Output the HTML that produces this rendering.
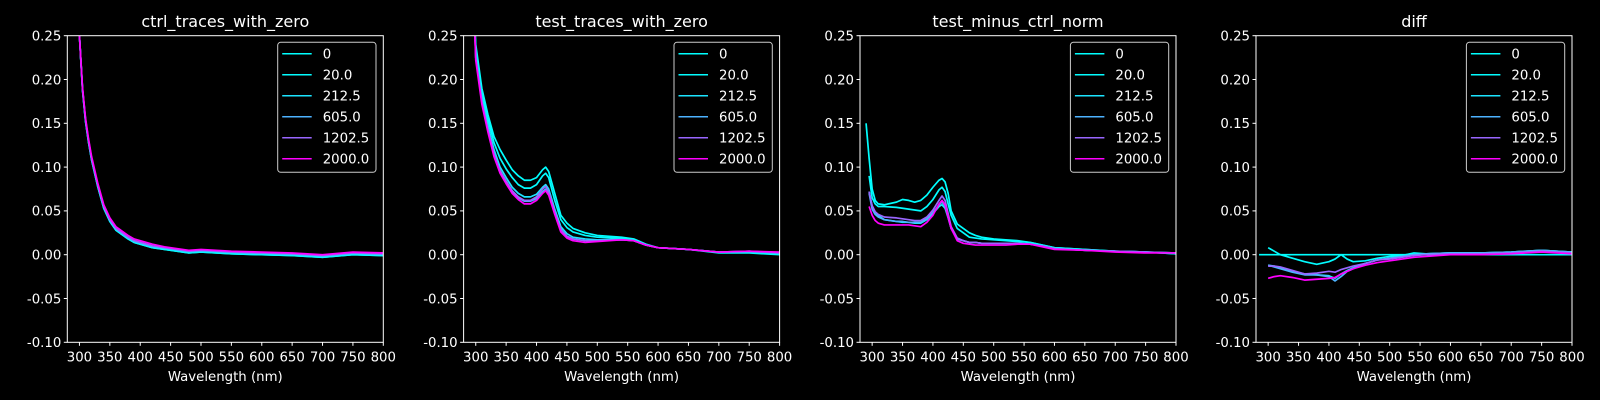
<!DOCTYPE html>
<html><head><meta charset="utf-8">
<style>
html,body{margin:0;padding:0;background:#000;}
svg{display:block;font-family:"DejaVu Sans","Liberation Sans",sans-serif;}
</style></head>
<body>
<svg id="fig" width="1600" height="400" viewBox="0 0 1600 400" xmlns="http://www.w3.org/2000/svg">
<rect width="1600" height="400" fill="#000"/>
</svg>
<script>
const legendLabels = ["0","20.0","212.5","605.0","1202.5","2000.0"];
const seriesColors = ["#00ffff","#03fcff","#1be4ff","#4db2ff","#9966ff","#ff00ff"];
const panelTitles = ["ctrl_traces_with_zero","test_traces_with_zero","test_minus_ctrl_norm","diff"];
const xTicks = [300,350,400,450,500,550,600,650,700,750,800];
const yTicks = [-0.10,-0.05,0.00,0.05,0.10,0.15,0.20,0.25];

const wl1 = [290,295,300,305,310,315,320,330,340,350,360,370,380,390,400,420,440,460,480,500,550,600,650,700,750,800];
const p1s0 = [0.45,0.35,0.25,0.188,0.152,0.128,0.108,0.078,0.053,0.038,0.028,0.023,0.018,0.014,0.012,0.008,0.006,0.004,0.002,0.003,0.001,0.000,-0.001,-0.003,0.000,-0.001];
const p1s1 = [0.45,0.35,0.25,0.188,0.152,0.128,0.108,0.078,0.053,0.038,0.028,0.023,0.018,0.014,0.012,0.008,0.006,0.004,0.002,0.003,0.001,0.000,-0.001,-0.003,0.000,-0.001];
const p1s2 = [0.45,0.35,0.25,0.189,0.153,0.129,0.109,0.079,0.054,0.039,0.029,0.024,0.019,0.015,0.013,0.009,0.007,0.005,0.003,0.004,0.002,0.001,0.000,-0.002,0.001,0.000];
const p1s3 = [0.45,0.35,0.25,0.19,0.154,0.13,0.11,0.08,0.055,0.04,0.03,0.025,0.02,0.016,0.014,0.010,0.008,0.006,0.004,0.005,0.003,0.002,0.001,-0.001,0.002,0.001];
const p1s4 = [0.45,0.35,0.25,0.19,0.154,0.13,0.11,0.08,0.055,0.04,0.03,0.025,0.02,0.016,0.014,0.010,0.008,0.006,0.004,0.005,0.003,0.002,0.001,-0.001,0.002,0.001];
const p1s5 = [0.45,0.35,0.25,0.191,0.156,0.132,0.112,0.082,0.057,0.042,0.032,0.027,0.022,0.018,0.016,0.012,0.009,0.007,0.005,0.006,0.004,0.003,0.002,0.000,0.003,0.002];

const wl2 = [290,295,300,310,320,330,340,350,360,370,380,390,400,410,415,420,430,440,450,460,480,500,540,560,580,600,650,700,750,800];
const p2s0 = [0.42,0.32,0.24,0.19,0.16,0.135,0.12,0.108,0.097,0.09,0.085,0.085,0.088,0.097,0.100,0.095,0.07,0.045,0.036,0.030,0.025,0.022,0.020,0.018,0.012,0.008,0.006,0.002,0.002,0.000];
const p2s1 = [0.42,0.32,0.235,0.185,0.155,0.128,0.11,0.098,0.088,0.08,0.076,0.076,0.080,0.090,0.093,0.088,0.062,0.040,0.031,0.026,0.022,0.020,0.019,0.017,0.011,0.008,0.006,0.003,0.003,0.001];
const p2s2 = [0.42,0.32,0.23,0.18,0.148,0.12,0.1,0.088,0.077,0.07,0.066,0.066,0.069,0.077,0.080,0.075,0.052,0.032,0.024,0.020,0.018,0.017,0.018,0.016,0.011,0.008,0.006,0.003,0.003,0.002];
const p2s3 = [0.42,0.32,0.225,0.175,0.143,0.115,0.095,0.083,0.072,0.065,0.061,0.061,0.064,0.072,0.075,0.070,0.048,0.029,0.021,0.018,0.016,0.016,0.017,0.016,0.011,0.008,0.006,0.003,0.004,0.002];
const p2s4 = [0.42,0.32,0.225,0.175,0.143,0.115,0.096,0.084,0.073,0.066,0.062,0.062,0.066,0.075,0.078,0.072,0.049,0.029,0.021,0.018,0.016,0.016,0.017,0.016,0.011,0.008,0.006,0.003,0.004,0.002];
const p2s5 = [0.42,0.32,0.222,0.172,0.14,0.112,0.093,0.081,0.07,0.063,0.058,0.058,0.062,0.070,0.073,0.068,0.046,0.026,0.019,0.016,0.014,0.015,0.017,0.016,0.011,0.008,0.006,0.003,0.004,0.003];

const wl3 = [290,295,300,305,310,320,340,350,360,370,380,390,400,410,415,420,425,430,440,450,460,470,480,500,520,540,560,580,600,650,700,750,800];
const p3s0 = [0.150,0.110,0.075,0.062,0.058,0.057,0.060,0.063,0.062,0.060,0.062,0.068,0.077,0.085,0.087,0.083,0.070,0.050,0.035,0.030,0.025,0.022,0.020,0.018,0.017,0.016,0.014,0.011,0.008,0.006,0.004,0.003,0.001];
const p3s1 = [null,0.090,0.065,0.058,0.055,0.055,0.054,0.053,0.052,0.051,0.050,0.055,0.063,0.074,0.077,0.072,0.058,0.045,0.030,0.025,0.020,0.019,0.018,0.017,0.016,0.015,0.014,0.011,0.008,0.006,0.004,0.003,0.001];
const p3s2 = [null,0.072,0.055,0.048,0.045,0.040,0.038,0.037,0.037,0.036,0.036,0.040,0.047,0.055,0.057,0.053,0.042,0.030,0.018,0.016,0.014,0.014,0.013,0.013,0.013,0.013,0.012,0.010,0.007,0.005,0.004,0.003,0.002];
const p3s3 = [null,0.070,0.052,0.046,0.043,0.040,0.038,0.038,0.037,0.037,0.037,0.041,0.048,0.057,0.060,0.056,0.043,0.030,0.018,0.016,0.014,0.014,0.013,0.013,0.013,0.013,0.012,0.010,0.007,0.005,0.004,0.003,0.002];
const p3s4 = [null,0.072,0.056,0.049,0.046,0.043,0.042,0.041,0.040,0.039,0.039,0.043,0.051,0.062,0.067,0.062,0.047,0.032,0.019,0.016,0.014,0.014,0.013,0.013,0.013,0.013,0.012,0.010,0.007,0.005,0.004,0.003,0.002];
const p3s5 = [null,0.055,0.045,0.039,0.036,0.034,0.034,0.034,0.034,0.033,0.032,0.037,0.045,0.058,0.062,0.057,0.043,0.030,0.016,0.013,0.012,0.011,0.011,0.011,0.011,0.012,0.012,0.009,0.006,0.005,0.003,0.002,0.002];

const wl4 = [285,300,310,320,340,360,380,400,410,420,430,440,460,480,500,520,540,560,600,650,700,750,800];
const p4s0 = [0,0,0,0,0,0,0,0,0,0,0,0,0,0,0,0,0,0,0,0,0,0,0];
const p4s1 = [null,0.008,0.004,0.000,-0.004,-0.008,-0.011,-0.008,-0.005,0.000,-0.005,-0.008,-0.007,-0.004,-0.002,-0.001,0.002,0.001,0.002,0.002,0.003,0.005,0.003];
const p4s2 = [null,-0.012,-0.013,-0.015,-0.019,-0.022,-0.023,-0.024,-0.027,-0.022,-0.018,-0.015,-0.010,-0.006,-0.004,-0.002,0.000,0.001,0.002,0.002,0.003,0.005,0.003];
const p4s3 = [null,-0.012,-0.014,-0.016,-0.020,-0.023,-0.023,-0.025,-0.030,-0.025,-0.019,-0.016,-0.010,-0.006,-0.004,-0.002,0.000,0.001,0.002,0.002,0.003,0.005,0.003];
const p4s4 = [null,-0.013,-0.013,-0.014,-0.018,-0.022,-0.021,-0.019,-0.020,-0.017,-0.015,-0.013,-0.010,-0.006,-0.005,-0.003,-0.001,0.000,0.001,0.001,0.002,0.004,0.002];
const p4s5 = [null,-0.027,-0.025,-0.024,-0.026,-0.029,-0.028,-0.027,-0.026,-0.022,-0.019,-0.016,-0.012,-0.009,-0.007,-0.005,-0.003,-0.002,0.000,0.000,0.001,0.003,0.001];

const panels = [
  {wl: wl1, series: [p1s0,p1s1,p1s2,p1s3,p1s4,p1s5]},
  {wl: wl2, series: [p2s0,p2s1,p2s2,p2s3,p2s4,p2s5]},
  {wl: wl3, series: [p3s0,p3s1,p3s2,p3s3,p3s4,p3s5]},
  {wl: wl4, series: [p4s0,p4s1,p4s2,p4s3,p4s4,p4s5]}
];

const NS = "http://www.w3.org/2000/svg";
const fig = document.getElementById('fig');
const X0 = 280, X1 = 800, Y0 = -0.10, Y1 = 0.25;
const PW = 316, PT = 35.7, PB = 342.3;
const lefts = [67.3, 463.6, 860, 1256];

function mk(tag, attrs, parent){
  const e = document.createElementNS(NS, tag);
  for (const k in attrs) e.setAttribute(k, attrs[k]);
  parent.appendChild(e);
  return e;
}

panels.forEach((p, pi) => {
  const L = lefts[pi], R = L + PW;
  const xs = v => L + (v - X0) / (X1 - X0) * PW;
  const ys = v => PB - (v - Y0) / (Y1 - Y0) * (PB - PT);
  const g = mk('g', {}, fig);
  
  

  const clip = mk('clipPath', {id: 'clip' + pi}, g);
  mk('rect', {x: L, y: PT, width: PW, height: PB - PT}, clip);

  const lines = mk('g', {'clip-path': 'url(#clip' + pi + ')'}, g);
  
  
  p.series.forEach((s, si) => {
    let d = '', started = false;
    s.forEach((v, i) => {
      if (v === null) return;
      d += (started ? 'L' : 'M') + xs(p.wl[i]).toFixed(2) + ',' + ys(v).toFixed(2);
      started = true;
    });
    const path = mk('path', {d: d, fill: 'none', stroke: seriesColors[si], 'stroke-width': 1.7, 'stroke-linejoin': 'round'}, lines);
    
    
  });

  const frame = mk('rect', {x: L, y: PT, width: PW, height: PB - PT, fill: 'none', stroke: '#fff', 'stroke-width': 1}, g);
  
  

  xTicks.forEach(t => {
    const x = xs(t);
    mk('line', {x1: x, x2: x, y1: PB, y2: PB + 3.5, stroke: '#fff', 'stroke-width': 1}, g);
    const tx = mk('text', {x: x, y: PB + 19, fill: '#fff', 'font-size': 13.3, 'text-anchor': 'middle'}, g);
    tx.textContent = t;
    
    
  });
  yTicks.forEach(t => {
    const y = ys(t);
    mk('line', {x1: L - 3.5, x2: L, y1: y, y2: y, stroke: '#fff', 'stroke-width': 1}, g);
    const ty = mk('text', {x: L - 6, y: y + 4.8, fill: '#fff', 'font-size': 13.3, 'text-anchor': 'end'}, g);
    ty.textContent = t.toFixed(2);
    
    
  });

  const title = mk('text', {x: L + PW / 2, y: 27, fill: '#fff', 'font-size': 16, 'text-anchor': 'middle'}, g);
  title.textContent = panelTitles[pi];
  
  

  const xl = mk('text', {x: L + PW / 2, y: 381, fill: '#fff', 'font-size': 13.3, 'text-anchor': 'middle'}, g);
  xl.textContent = 'Wavelength (nm)';
  
  

  const leg = mk('g', {}, g);
  
  
  const lx = R - 105.6;
  mk('rect', {x: lx, y: 42.3, width: 98.3, height: 130, rx: 3, fill: '#000', 'fill-opacity': 0.8, stroke: '#cccccc', 'stroke-width': 1}, leg);
  legendLabels.forEach((lab, si) => {
    const y = 53.7 + si * 21;
    const ent = mk('g', {}, leg);
    
    
    mk('line', {x1: lx + 4.5, x2: lx + 34, y1: y, y2: y, stroke: seriesColors[si], 'stroke-width': 1.5}, ent);
    const t = mk('text', {x: lx + 45, y: y + 4.8, fill: '#fff', 'font-size': 13.3}, ent);
    t.textContent = lab;
  });
});
</script>
</body></html>
